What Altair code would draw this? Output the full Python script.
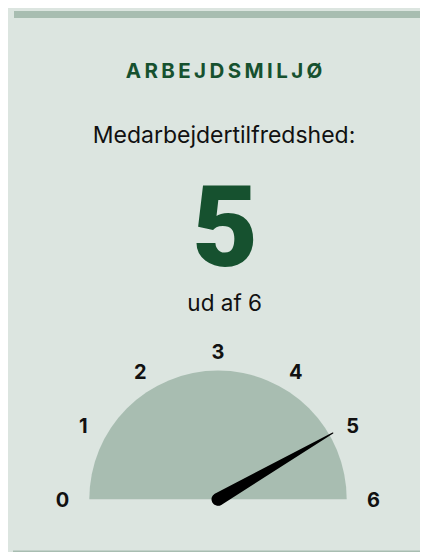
import math
import altair as alt
import pandas as pd

# ---- data ----
section_title = ["ARBEJDSMILJØ"]
metric_label = ["Medarbejdertilfredshed:"]
score = [5]
max_score = [6]
tick_values = [0, 1, 2, 3, 4, 5, 6]

# ---- layout constants ----
W, H = 412, 544
CX, CY = 210.0, 491.3          # gauge centre in chart pixels
R_PX = 128.7                   # gauge radius in pixels
BG = "#dce5e0"
GAUGE = "#a8bdb1"
GREEN = "#16512f"
FONT = "Inter"

# gauge unit scales (1 unit = gauge radius)
xs = alt.Scale(domain=[-CX / R_PX, (W - CX) / R_PX], range=[0, W], nice=False, zero=False)
ys = alt.Scale(domain=[-(H - CY) / R_PX, CY / R_PX], range=[H, 0], nice=False, zero=False)

vmax = max_score[0]
def ang(v):
    return math.pi * (1 - v / vmax)

# semicircle
arc_df = pd.DataFrame({"x": [0.0], "y": [0.0], "start": [0], "end": [vmax]})
arc = alt.Chart(arc_df).mark_arc(radius=R_PX, color=GAUGE).encode(
    x=alt.X("x:Q", scale=xs, axis=None),
    y=alt.Y("y:Q", scale=ys, axis=None),
    theta=alt.Theta("start:Q", scale=alt.Scale(domain=[0, vmax], range=[1.5 * math.pi, 2.5 * math.pi])),
    theta2="end:Q",
)

# needle
a = ang(score[0])
needle_len = 1.03
needle_df = pd.DataFrame({
    "x": [0.0, needle_len * math.cos(a)],
    "y": [0.0, needle_len * math.sin(a)],
    "w": [13, 1.2],
    "o": [0, 1],
})
needle = alt.Chart(needle_df).mark_trail(color="black").encode(
    x=alt.X("x:Q", scale=xs, axis=None),
    y=alt.Y("y:Q", scale=ys, axis=None),
    size=alt.Size("w:Q", scale=None, legend=None),
    order="o:Q",
)
hub = alt.Chart(needle_df.iloc[[0]]).mark_circle(color="black", opacity=1, size=140).encode(
    x=alt.X("x:Q", scale=xs, axis=None),
    y=alt.Y("y:Q", scale=ys, axis=None),
)

# tick labels
RX, RY = 1.208, 1.155
lab_df = pd.DataFrame({
    "t": [str(v) for v in tick_values],
    "x": [RX * math.cos(ang(v)) for v in tick_values],
    "y": [RY * math.sin(ang(v)) for v in tick_values],
})
labels = alt.Chart(lab_df).mark_text(
    font=FONT, fontSize=20, fontWeight=700, color="#111111", baseline="middle", align="center", dy=2
).encode(
    x=alt.X("x:Q", scale=xs, axis=None),
    y=alt.Y("y:Q", scale=ys, axis=None),
    text="t:N",
)

# decorative bars
one = pd.DataFrame({"k": [0]})
top_bar = alt.Chart(one).mark_rect(color=GAUGE).encode(
    x=alt.value(6), x2=alt.value(W), y=alt.value(3), y2=alt.value(10)
)
bottom_line = alt.Chart(one).mark_rect(color=GAUGE).encode(
    x=alt.value(5), x2=alt.value(W), y=alt.value(H - 1.5), y2=alt.value(H)
)

def txt(s, x, y, size, weight, color, font=FONT, **kw):
    return alt.Chart(pd.DataFrame({"s": [s]})).mark_text(
        font=font, fontSize=size, fontWeight=weight, color=color,
        align="center", baseline="alphabetic", **kw
    ).encode(x=alt.value(x), y=alt.value(y), text="s:N")

spaced_title = "\u2006".join(section_title[0])
title = txt(spaced_title, 216, 70.3, 20.5, 700, GREEN)
metric = txt(metric_label[0], 216, 135.3, 23, 400, "#111111")
big = txt(str(score[0]), 217, 258, 114, 900, GREEN, font="Roboto")
outof = txt(f"ud af {max_score[0]}", 216.7, 302.7, 22.5, 400, "#111111")

chart = alt.layer(
    top_bar, bottom_line, title, metric, big, outof, arc, needle, hub, labels
).properties(
    width=W, height=H, background=BG, padding=0,
    autosize=alt.AutoSizeParams(type="none"),
).configure_view(stroke=None)

chart.save("out.html", embed_options={"renderer": "svg", "actions": False})
